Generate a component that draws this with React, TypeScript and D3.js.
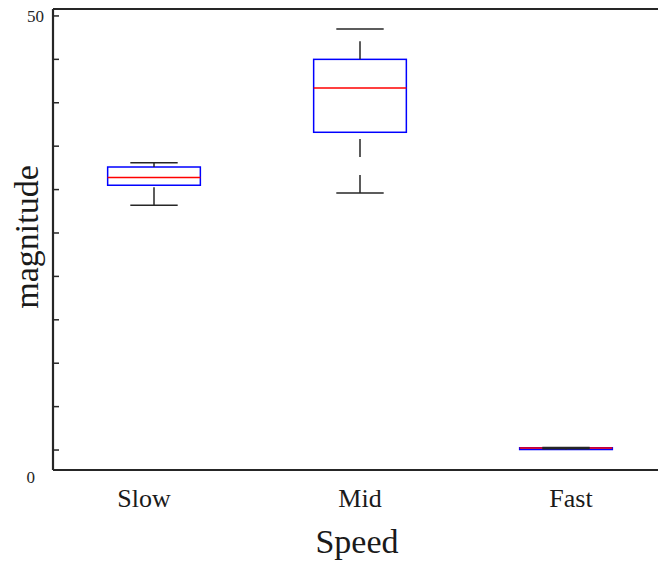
import React, { useEffect, useRef } from 'react';
import * as d3 from 'd3';

// box stats
const categories = ['Slow', 'Mid', 'Fast'];
const mins = [28.2, 29.6, 0.14];
const q1s = [30.5, 36.6, 0.06];
const medians = [31.4, 41.7, 0.24];
const q3s = [32.6, 45.0, 0.26];
const maxs = [33.1, 48.5, 0.3];

const yTicks = [0, 5, 10, 15, 20, 25, 30, 35, 40, 45, 50];

function App() {
  const ref = useRef<SVGSVGElement>(null);

  useEffect(() => {
    document.body.style.margin = '0';
    const svg = d3.select(ref.current);
    svg.selectAll('*').remove();

    const W = 658, H = 563;
    const left = 53, top = 9, bottom = 470;
    const font = '"Liberation Serif", "Times New Roman", serif';

    const x = d3.scaleLinear().domain([0.5, 3.5]).range([51, 669]);
    const y = d3.scaleLinear().domain([-2.3, 50.8]).range([bottom, top]);

    const boxW = 0.45, capW = 0.23;
    const data = categories.map((c, i) => ({
      name: c, pos: i + 1,
      min: mins[i], q1: q1s[i], med: medians[i], q3: q3s[i], max: maxs[i],
    }));

    const g = svg.append('g');

    // boxes
    g.selectAll('rect.box').data(data).enter().append('rect')
      .attr('class', 'box')
      .attr('x', d => x(d.pos - boxW / 2))
      .attr('width', d => x(d.pos + boxW / 2) - x(d.pos - boxW / 2))
      .attr('y', d => y(d.q3))
      .attr('height', d => Math.max(y(d.q1) - y(d.q3), 0.5))
      .attr('fill', 'none')
      .attr('stroke', '#0000ff')
      .attr('stroke-width', 1.5);

    // medians
    g.selectAll('line.med').data(data).enter().append('line')
      .attr('x1', d => x(d.pos - boxW / 2))
      .attr('x2', d => x(d.pos + boxW / 2))
      .attr('y1', d => y(d.med))
      .attr('y2', d => y(d.med))
      .attr('stroke', '#ff0000')
      .attr('stroke-width', 1.5);

    // whiskers, drawn from the lower value upward so the dashes start there
    const whisk = data.flatMap(d => [
      { pos: d.pos, a: d.min, b: d.q1 },
      { pos: d.pos, a: d.q3, b: d.max },
    ]);
    g.selectAll('line.wh').data(whisk).enter().append('line')
      .attr('x1', d => x(d.pos))
      .attr('x2', d => x(d.pos))
      .attr('y1', d => y(d.a))
      .attr('y2', d => y(d.b))
      .attr('stroke', '#262626')
      .attr('stroke-width', 1.5)
      .attr('stroke-dasharray', '18,18');

    // caps
    const caps = data.flatMap(d => [{ pos: d.pos, v: d.min }, { pos: d.pos, v: d.max }]);
    g.selectAll('line.cap').data(caps).enter().append('line')
      .attr('x1', d => x(d.pos - capW / 2))
      .attr('x2', d => x(d.pos + capW / 2))
      .attr('y1', d => y(d.v))
      .attr('y2', d => y(d.v))
      .attr('stroke', '#262626')
      .attr('stroke-width', 1.5);

    // axes frame
    const ax = svg.append('g').attr('stroke', '#262626').attr('stroke-width', 2.2);
    ax.append('line').attr('x1', left).attr('x2', left).attr('y1', top).attr('y2', bottom);
    ax.append('line').attr('x1', left).attr('x2', W).attr('y1', bottom).attr('y2', bottom);
    ax.append('line').attr('x1', left).attr('x2', W).attr('y1', top).attr('y2', top);

    svg.append('g').selectAll('line').data(yTicks).enter().append('line')
      .attr('x1', left).attr('x2', left + 6)
      .attr('y1', d => y(d)).attr('y2', d => y(d))
      .attr('stroke', '#262626').attr('stroke-width', 1.5);

    // y labels (only ends labelled)
    svg.append('text').attr('x', 44).attr('y', y(50) + 6)
      .attr('text-anchor', 'end').attr('font-family', font).attr('font-size', 17)
      .attr('fill', '#262626').text('50');
    svg.append('text').attr('x', 35).attr('y', bottom + 13)
      .attr('text-anchor', 'end').attr('font-family', font).attr('font-size', 17)
      .attr('fill', '#262626').text('0');

    // x tick labels (small nudges to match the original placement)
    const nudge: Record<string, number> = { Slow: -10, Mid: 0, Fast: 5 };
    svg.append('g').selectAll('text').data(data).enter().append('text')
      .attr('x', d => x(d.pos) + nudge[d.name])
      .attr('y', 507)
      .attr('text-anchor', 'middle')
      .attr('font-family', font)
      .attr('font-size', 26)
      .attr('fill', '#1a1a1a')
      .text(d => d.name);

    svg.append('text').attr('x', 357).attr('y', 553)
      .attr('text-anchor', 'middle').attr('font-family', font).attr('font-size', 34)
      .attr('fill', '#1a1a1a').text('Speed');

    svg.append('text')
      .attr('transform', `translate(38, 237) rotate(-90)`)
      .attr('text-anchor', 'middle').attr('font-family', font).attr('font-size', 34)
      .attr('fill', '#1a1a1a').text('magnitude');

    svg.attr('width', W).attr('height', H);
  }, []);

  return (
    <div>
      <svg ref={ref} width={658} height={563} style={{ display: 'block' }} />
    </div>
  );
}

export default App;
